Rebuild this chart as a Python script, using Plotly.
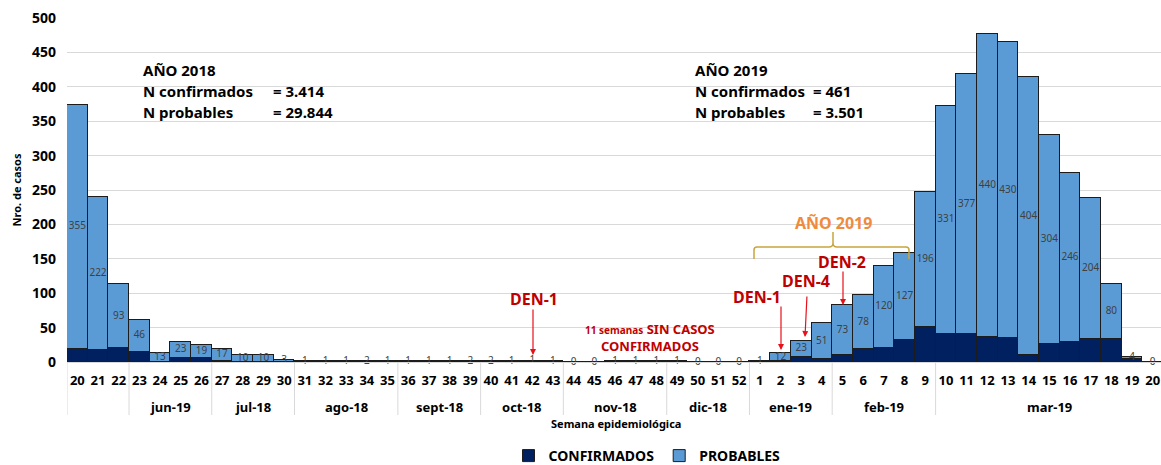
import plotly.graph_objects as go

# ---------------- data ----------------
SEMANAS = ["20", "21", "22", "23", "24", "25", "26", "27", "28", "29", "30",
           "31", "32", "33", "34", "35", "36", "37", "38", "39", "40", "41",
           "42", "43", "44", "45", "46", "47", "48", "49", "50", "51", "52",
           "1", "2", "3", "4", "5", "6", "7", "8", "9", "10", "11", "12",
           "13", "14", "15", "16", "17", "18", "19", "20\u200b"]
MESES = ["", "jun-19", "jul-18", "ago-18", "sept-18", "oct-18", "nov-18",
         "dic-18", "ene-19", "feb-19", "mar-19"]
SEMANAS_POR_MES = [3, 4, 4, 5, 4, 4, 5, 4, 4, 5, 11]

PROBABLES = [355, 222, 93, 46, 13, 23, 19, 17, 10, 10, 3,
             1, 1, 1, 2, 1, 1, 1, 1, 2, 2, 1,
             1, 1, 0, 0, 1, 1, 1, 1, 0, 0, 0,
             1, 12, 23, 51, 73, 78, 120, 127, 196, 331, 377, 440,
             430, 404, 304, 246, 204, 80, 4, 0]
CONFIRMADOS = [19, 18, 20, 15, 0, 6, 6, 2, 0, 0, 0,
               0, 0, 0, 0, 0, 0, 0, 0, 0, 0, 0,
               1, 0, 0, 0, 0, 0, 0, 0, 0, 0, 0,
               0, 1, 8, 5, 10, 19, 20, 32, 51, 41, 41, 37,
               35, 10, 26, 29, 34, 33, 4, 0]

# ---------------- helpers (layout geometry) ----------------
W, H = 1161, 465
ML, MR, MT, MB = 67, 0, 18, 103
PW, PH = W - ML - MR, H - MT - MB


def px(x):
    return (x - ML) / PW


def py(y):
    return (H - MB - y) / PH


FONT = "Noto Sans"
RED = "#C00000"
GRID = "#d9d9d9"

fig = go.Figure()
fig.add_bar(name="CONFIRMADOS", x=SEMANAS, y=CONFIRMADOS,
            marker=dict(color="#002060", line=dict(color="#1c1c1c", width=1)))
fig.add_bar(name="PROBABLES", x=SEMANAS, y=PROBABLES,
            marker=dict(color="#5B9BD5", line=dict(color="#1c1c1c", width=1)))
fig.add_scatter(x=SEMANAS, y=[c + p / 2 for c, p in zip(CONFIRMADOS, PROBABLES)],
                mode="text", text=[str(p) for p in PROBABLES],
                textfont=dict(size=10, color="#404040", family=FONT),
                showlegend=False, cliponaxis=False, hoverinfo="skip")

ann = []
shapes = []


def txt(x, y, s, size=15, color="black", xanchor="left"):
    ann.append(dict(x=px(x), y=py(y), xref="paper", yref="paper", text=s,
                    showarrow=False, xanchor=xanchor, yanchor="middle",
                    font=dict(family=FONT, size=size, color=color, weight="bold")))


def arrow(x0, y0, x1, y1):
    ann.append(dict(x=px(x1), y=py(y1), xref="paper", yref="paper", text="",
                    showarrow=True, ax=x0 - x1, ay=y0 - y1, arrowhead=2,
                    arrowsize=1, arrowwidth=1.2, arrowcolor="#E8101A"))


# month group labels and dividers (second axis level)
start = 0
for m, n in zip(MESES, SEMANAS_POR_MES):
    shapes.append(dict(type="line", xref="x", yref="paper", x0=start - 0.5, x1=start - 0.5,
                       y0=0, y1=py(415), line=dict(color=GRID, width=1)))
    if m:
        ann.append(dict(x=start + (n - 1) / 2, y=py(407), xref="x", yref="paper", text=m,
                        showarrow=False, xanchor="center", yanchor="middle",
                        font=dict(family=FONT, size=13, color="black", weight="bold")))
    start += n

# x axis title
txt(616, 424, "Semana epidemiológica", size=11, xanchor="center")

# 2018 block
txt(141, 70, "AÑO 2018")
txt(141, 91, "N confirmados")
txt(271, 91, "= 3.414")
txt(141, 112, "N probables")
txt(271, 112, "= 29.844")
# 2019 block
txt(693, 70, "AÑO 2019")
txt(693, 91, "N confirmados")
txt(811, 91, "= 461")
txt(693, 112, "N probables")
txt(811, 112, "= 3.501")

txt(833, 223, "AÑO 2019", size=16, color="#F08A3C", xanchor="center")

txt(534, 299, "DEN-1", size=16, color=RED, xanchor="center")
arrow(533, 308, 533, 355)
txt(757, 297, "DEN-1", size=16, color=RED, xanchor="center")
arrow(781, 305, 781, 350)
txt(806, 281, "DEN-4", size=16, color=RED, xanchor="center")
arrow(807, 295, 805, 337)
txt(842, 262, "DEN-2", size=16, color=RED, xanchor="center")
arrow(843, 270, 843, 305)

ann.append(dict(x=px(650), y=py(337), xref="paper", yref="paper",
                text="<span style='font-size:10px'>11 semanas</span> SIN CASOS<br>CONFIRMADOS",
                showarrow=False, xanchor="center", yanchor="middle",
                font=dict(family=FONT, size=13, color=RED, weight="bold")))


# brace
def P(x, y):
    return f"{px(x):.5f},{py(y):.5f}"


brace = ("M " + P(754, 259) + " L " + P(754, 250) + " Q " + P(754, 247) + " " + P(757, 247)
         + " L " + P(829, 247) + " Q " + P(833, 247) + " " + P(833, 243) + " L " + P(833, 232)
         + " M " + P(833, 243) + " Q " + P(833, 247) + " " + P(837, 247)
         + " L " + P(906, 247) + " Q " + P(909, 247) + " " + P(909, 250) + " L " + P(909, 259))
shapes.append(dict(type="path", path=brace, xref="paper", yref="paper",
                   line=dict(color="#C9A53C", width=1.5)))

fig.update_layout(
    width=W, height=H,
    margin=dict(l=ML, r=MR, t=MT, b=MB, autoexpand=False),
    paper_bgcolor="white", plot_bgcolor="white",
    barmode="stack", bargap=0,
    font=dict(family=FONT, color="black"),
    annotations=ann, shapes=shapes,
    legend=dict(orientation="h", x=px(647), xanchor="center", y=py(456), yanchor="middle",
                font=dict(size=14, weight="bold", family=FONT), traceorder="normal"),
    xaxis=dict(type="category", range=[-0.5, 52.4], tickangle=0, automargin=False,
               tickfont=dict(size=13, weight="bold", family=FONT, color="black"),
               ticks="", ticklabelstandoff=6,
               showline=True, linecolor=GRID, linewidth=1, showgrid=False),
    yaxis=dict(range=[0, 500], dtick=50, showgrid=True, gridcolor=GRID,
               zeroline=False, ticks="", ticklabelstandoff=10, automargin=False,
               tickfont=dict(size=14, weight="bold", family=FONT, color="black"),
               title=dict(text="Nro. de casos",
                          font=dict(size=11, weight="bold", family=FONT), standoff=8)),
)
fig.write_html("out.html", config={"displayModeBar": False},
               post_script="document.body.style.margin='0';document.body.style.overflow='hidden';")
